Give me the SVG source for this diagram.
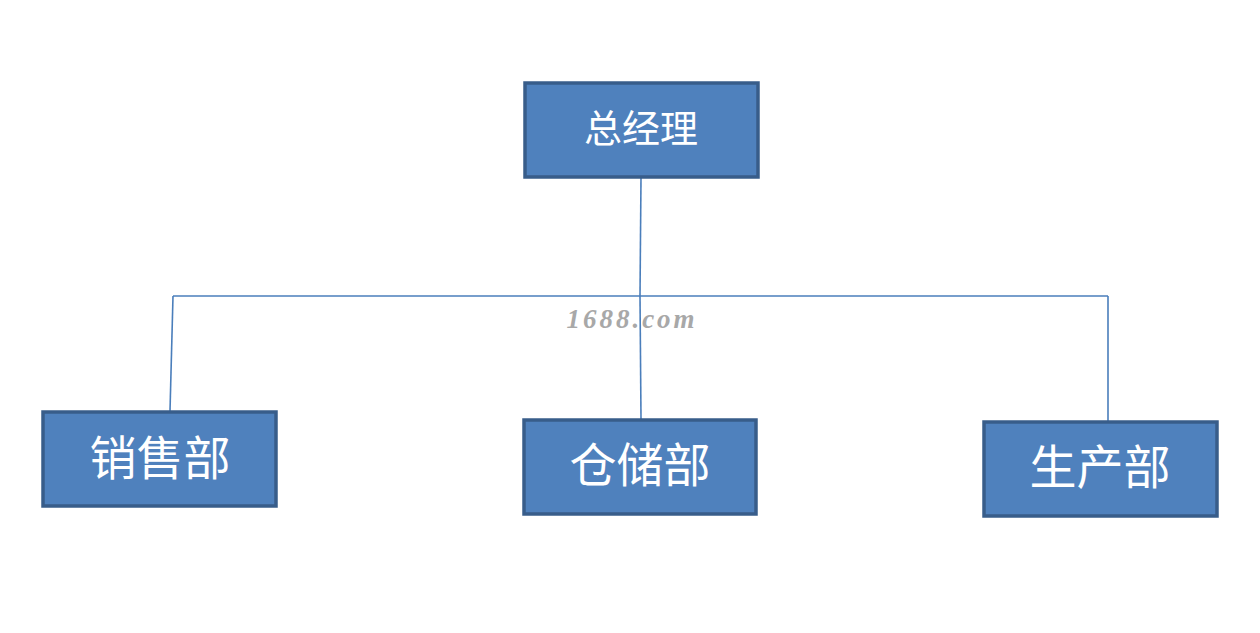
<svg xmlns="http://www.w3.org/2000/svg" width="1260" height="633" viewBox="0 0 1260 633">
<style>
.box{fill:#4f81bd;stroke:#385d8a;stroke-width:3.5}
.lbl{fill:#ffffff;font-family:"Liberation Serif","Noto Sans CJK SC",serif;text-anchor:middle;dominant-baseline:central}
.conn{stroke:#4a7ebb;stroke-width:1.6;fill:none}
.wm{fill:#a8a8a8;font-family:"Liberation Serif",serif;font-style:italic;font-weight:bold;font-size:27px;text-anchor:middle;letter-spacing:3px}
</style>
<rect width="1260" height="633" fill="#ffffff"/>
<g id="connectors">
<path class="conn" d="M641 178 L640 296"/>
<path class="conn" d="M173 296 L1108 296"/>
<path class="conn" d="M173 296 L170 411"/>
<path class="conn" d="M640 296 L641 419"/>
<path class="conn" d="M1108 296 L1108 421"/>
</g>
<g id="node-gm">
<rect class="box" x="525" y="83" width="233" height="94"/>
<text class="lbl" x="641" y="129" font-size="38">总经理</text>
</g>
<g id="node-sales">
<rect class="box" x="43" y="412" width="233" height="94"/>
<text class="lbl" x="160" y="459" font-size="47">销售部</text>
</g>
<g id="node-storage">
<rect class="box" x="524" y="420" width="232" height="94"/>
<text class="lbl" x="640" y="466" font-size="47">仓储部</text>
</g>
<g id="node-production">
<rect class="box" x="984" y="422" width="233" height="94"/>
<text class="lbl" x="1100" y="468" font-size="47">生产部</text>
</g>
<text class="wm" x="632" y="328">1688.com</text>
</svg>
